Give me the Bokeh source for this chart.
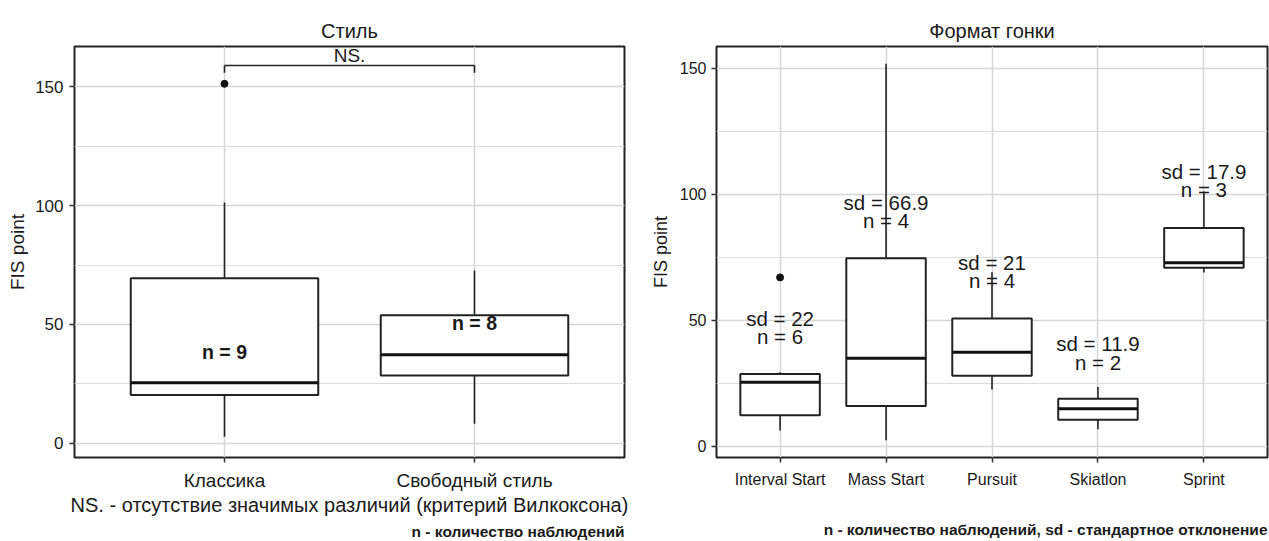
from bokeh.plotting import figure
from bokeh.layouts import row
from bokeh.models import FactorRange, Range1d, FixedTicker, Title
from bokeh.core.properties import value
from bokeh.embed import file_html
from bokeh.resources import INLINE

# ---------------- data: left panel (style) ----------------
style_cats = ["Классика", "Свободный стиль"]
style_lo = [2.7, 8.2]
style_q1 = [20.3, 28.5]
style_med = [25.5, 37.2]
style_q3 = [69.4, 53.9]
style_hi = [101.3, 72.7]
style_out_x = ["Классика"]
style_out_y = [151.3]
style_n_text = ["n = 9", "n = 8"]
style_n_y = [38.6, 50.5]
bracket_y = 159.0
bracket_tip_y = 156.0
bracket_text = "NS."
style_ticks = [0, 50, 100, 150]
style_minor = [25, 75, 125]

# ---------------- data: right panel (race format) ----------------
race_cats = ["Interval Start", "Mass Start", "Pursuit", "Skiatlon", "Sprint"]
race_lo = [6.3, 2.4, 22.5, 6.7, 68.9]
race_q1 = [12.3, 16.0, 28.0, 10.5, 70.8]
race_med = [25.4, 34.9, 37.3, 14.9, 72.8]
race_q3 = [28.7, 74.6, 50.7, 18.8, 86.6]
race_hi = [29.4, 151.8, 69.0, 23.5, 101.1]
race_out_x = ["Interval Start"]
race_out_y = [67.0]
race_sd_text = ["sd = 22", "sd = 66.9", "sd = 21", "sd = 11.9", "sd = 17.9"]
race_sd_y = [50.7, 96.8, 72.8, 40.8, 109.0]
race_n_text = ["n = 6", "n = 4", "n = 4", "n = 2", "n = 3"]
race_n_y = [43.6, 89.7, 65.6, 33.3, 101.8]

FONT = "Liberation Sans"
INK = "#1a1a1a"
GRID = "#d6d6d6"


def style_fig(p, tick_size):
    p.outline_line_color = "#222222"
    p.outline_line_width = 2
    p.background_fill_color = "white"
    p.border_fill_color = "white"
    for ax in (p.xaxis[0], p.yaxis[0]):
        ax.axis_line_color = None
        ax.major_tick_line_color = "#333333"
        ax.major_tick_line_width = 1.5
        ax.major_tick_out = 5
        ax.major_tick_in = 0
        ax.minor_tick_line_color = None
        ax.major_label_text_font = FONT
        ax.major_label_text_color = INK
        ax.major_label_text_font_size = tick_size
        ax.axis_label_text_font = FONT
        ax.axis_label_text_font_style = "normal"
        ax.axis_label_text_color = INK
    p.xgrid.grid_line_color = GRID
    p.xgrid.grid_line_width = 1.5
    p.ygrid.grid_line_color = GRID
    p.ygrid.grid_line_width = 1.5
    p.ygrid.minor_grid_line_color = "#dcdcdc"
    p.ygrid.minor_grid_line_width = 1.2
    p.title.text_font = FONT
    p.title.text_font_style = "normal"
    p.title.text_color = INK
    p.title.align = "center"
    p.title.text_font_size = "20px"


def boxes(p, cats, lo, q1, med, q3, hi, out_x, out_y):
    p.segment(x0=cats, y0=q3, x1=cats, y1=hi, line_color="#222222", line_width=1.6)
    p.segment(x0=cats, y0=lo, x1=cats, y1=q1, line_color="#222222", line_width=1.6)
    p.vbar(x=cats, bottom=q1, top=q3, width=0.75, fill_color="white",
           line_color="#222222", line_width=2)
    p.vbar(x=cats, bottom=med, top=med, width=0.75, fill_color=None,
           line_color="#111111", line_width=3)
    p.scatter(x=out_x, y=out_y, size=7, fill_color="#111111", line_color="#111111")


# ---------------- left figure ----------------
p1 = figure(
    x_range=FactorRange(factors=style_cats, range_padding=0.1, range_padding_units="absolute"),
    y_range=Range1d(-6, 167),
    width=630, height=541,
    output_backend="svg", toolbar_location=None,
    min_border_left=74, min_border_right=6, min_border_top=46, min_border_bottom=82,
    title="Стиль",
)
style_fig(p1, "17px")
p1.title.standoff = 10
p1.yaxis.ticker = FixedTicker(ticks=style_ticks, minor_ticks=style_minor)
p1.yaxis.axis_label = "FIS point"
p1.yaxis.axis_label_text_font_size = "19px"
p1.yaxis.axis_label_standoff = 4
p1.yaxis.major_label_standoff = 6
p1.xaxis.axis_label = "NS. - отсутствие значимых различий (критерий Вилкоксона)"
p1.xaxis.axis_label_text_font_size = "20px"
p1.xaxis.axis_label_standoff = 0
p1.xaxis.major_label_standoff = 7
p1.xaxis.major_label_text_font_size = "19px"

boxes(p1, style_cats, style_lo, style_q1, style_med, style_q3, style_hi, style_out_x, style_out_y)
p1.text(x=style_cats, y=style_n_y, text=style_n_text, text_align="center",
        text_baseline="middle", text_font=value(FONT), text_font_style="bold",
        text_font_size="19.5px", text_color=INK)
# significance bracket
p1.segment(x0=[style_cats[0]], y0=[bracket_y], x1=[style_cats[1]], y1=[bracket_y],
           line_color="#222222", line_width=1.6)
p1.segment(x0=style_cats, y0=[bracket_y, bracket_y], x1=style_cats,
           y1=[bracket_tip_y, bracket_tip_y], line_color="#222222", line_width=1.6)
p1.text(x=[style_cats[0]], y=[bracket_y], text=[bracket_text], x_offset=125, y_offset=0,
        text_align="center", text_baseline="bottom", text_font=value(FONT),
        text_font_size="19px", text_color=INK)

cap1 = Title(text="n - количество наблюдений", align="right", text_font=FONT,
             text_font_size="15.5px", text_font_style="bold", text_color=INK, standoff=4)
p1.add_layout(cap1, "below")

# ---------------- right figure ----------------
p2 = figure(
    x_range=FactorRange(factors=race_cats, range_padding=0.1, range_padding_units="absolute"),
    y_range=Range1d(-4.46, 158.6),
    width=639, height=541,
    output_backend="svg", toolbar_location=None,
    min_border_left=86, min_border_right=2, min_border_top=46, min_border_bottom=82,
    title="Формат гонки",
)
style_fig(p2, "16px")
p2.title.standoff = 10
p2.yaxis.ticker = FixedTicker(ticks=style_ticks, minor_ticks=style_minor)
p2.yaxis.axis_label = "FIS point"
p2.yaxis.axis_label_text_font_size = "18px"
p2.yaxis.axis_label_standoff = 6
p2.yaxis.major_label_standoff = 5
p2.xaxis.major_label_standoff = 8
p2.xaxis.major_label_text_font_size = "16px"
# empty axis label keeps room for the caption line, as in the left panel
p2.xaxis.axis_label = "\u00a0"
p2.xaxis.axis_label_text_font_size = "20px"
p2.xaxis.axis_label_standoff = 1

boxes(p2, race_cats, race_lo, race_q1, race_med, race_q3, race_hi, race_out_x, race_out_y)
p2.text(x=race_cats, y=race_sd_y, text=race_sd_text, text_align="center",
        text_baseline="middle", text_font=value(FONT), text_font_size="20.5px", text_color=INK)
p2.text(x=race_cats, y=race_n_y, text=race_n_text, text_align="center",
        text_baseline="middle", text_font=value(FONT), text_font_size="20.5px", text_color=INK)

cap2 = Title(text="n - количество наблюдений, sd - стандартное отклонение", align="right",
             text_font=FONT, text_font_size="15.5px", text_font_style="bold",
             text_color=INK, standoff=4)
p2.add_layout(cap2, "below")

layout = row(p1, p2)
open("out.html", "w").write(file_html(layout, INLINE))
